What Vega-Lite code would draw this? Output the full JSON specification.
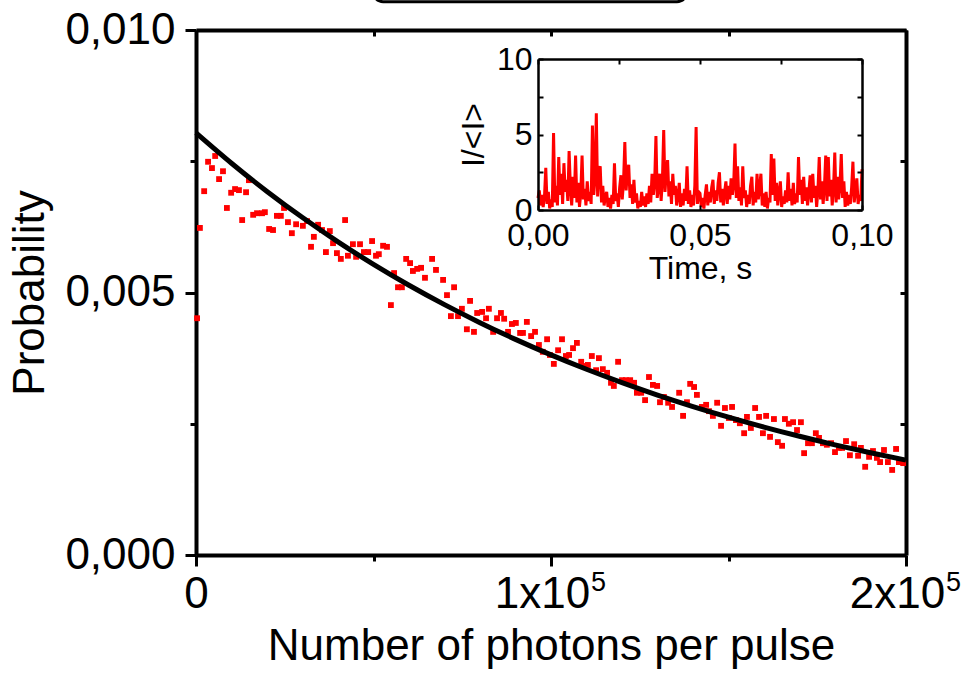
{
"$schema": "https://vega.github.io/schema/vega-lite/v6.json",
"width": 710,
"height": 525,
"autosize": {"type": "none"},
"padding": {"left": 196, "top": 30, "right": 59, "bottom": 118},
"background": "white",
"config": {
  "view": {"stroke": null},
  "font": "Liberation Sans",
  "axis": {"grid": false, "labelColor": "black", "titleColor": "black", "domainColor": "black", "tickColor": "black", "labelFont": "Liberation Sans", "titleFont": "Liberation Sans", "titleFontWeight": "normal", "labelFlush": false, "labelOverlap": false, "labelBound": false}
},
"datasets": {
  "scatter": [
{"n":300,"p":0.00451},{"n":1100,"p":0.00623},{"n":2300,"p":0.00693},{"n":3400,"p":0.00749},{"n":4500,"p":0.00737},{"n":5400,"p":0.00760},{"n":6500,"p":0.00716},{"n":7600,"p":0.00731},{"n":8700,"p":0.00661},{"n":9900,"p":0.00690},{"n":11000,"p":0.00697},{"n":12100,"p":0.00695},{"n":13000,"p":0.00638},{"n":14100,"p":0.00691},{"n":14900,"p":0.00714},{"n":16100,"p":0.00648},{"n":17200,"p":0.00651},{"n":18600,"p":0.00651},{"n":19400,"p":0.00653},{"n":20600,"p":0.00621},{"n":21700,"p":0.00619},{"n":22800,"p":0.00646},{"n":23900,"p":0.00646},{"n":24800,"p":0.00661},{"n":25900,"p":0.00634},{"n":27000,"p":0.00613},{"n":28200,"p":0.00630},{"n":30100,"p":0.00627},{"n":31300,"p":0.00636},{"n":32400,"p":0.00587},{"n":33200,"p":0.00606},{"n":34400,"p":0.00629},{"n":35500,"p":0.00619},{"n":36600,"p":0.00577},{"n":37700,"p":0.00617},{"n":38600,"p":0.00594},{"n":39700,"p":0.00575},{"n":40800,"p":0.00564},{"n":42000,"p":0.00638},{"n":42800,"p":0.00570},{"n":44200,"p":0.00592},{"n":45100,"p":0.00568},{"n":46200,"p":0.00592},{"n":47300,"p":0.00577},{"n":48500,"p":0.00577},{"n":49600,"p":0.00598},{"n":50700,"p":0.00570},{"n":51500,"p":0.00573},{"n":52700,"p":0.00589},{"n":53800,"p":0.00587},{"n":54900,"p":0.00476},{"n":55800,"p":0.00537},{"n":56900,"p":0.00510},{"n":58000,"p":0.00510},{"n":59200,"p":0.00564},{"n":60300,"p":0.00556},{"n":61100,"p":0.00541},{"n":62300,"p":0.00545},{"n":63400,"p":0.00547},{"n":64500,"p":0.00528},{"n":66500,"p":0.00564},{"n":67600,"p":0.00543},{"n":69600,"p":0.00524},{"n":70700,"p":0.00495},{"n":71800,"p":0.00455},{"n":72700,"p":0.00510},{"n":73800,"p":0.00455},{"n":74900,"p":0.00469},{"n":76300,"p":0.00430},{"n":77200,"p":0.00484},{"n":78300,"p":0.00425},{"n":79200,"p":0.00461},{"n":80600,"p":0.00463},{"n":81700,"p":0.00451},{"n":82500,"p":0.00469},{"n":83700,"p":0.00425},{"n":84800,"p":0.00451},{"n":85900,"p":0.00461},{"n":86800,"p":0.00450},{"n":87900,"p":0.00425},{"n":89000,"p":0.00440},{"n":90100,"p":0.00442},{"n":91300,"p":0.00423},{"n":92100,"p":0.00423},{"n":93200,"p":0.00444},{"n":94400,"p":0.00417},{"n":95500,"p":0.00425},{"n":96600,"p":0.00400},{"n":97700,"p":0.00387},{"n":98900,"p":0.00411},{"n":99700,"p":0.00381},{"n":100800,"p":0.00364},{"n":102000,"p":0.00390},{"n":103100,"p":0.00411},{"n":104200,"p":0.00379},{"n":105100,"p":0.00381},{"n":106200,"p":0.00394},{"n":107300,"p":0.00404},{"n":108500,"p":0.00368},{"n":109300,"p":0.00360},{"n":110400,"p":0.00362},{"n":111500,"p":0.00379},{"n":112700,"p":0.00352},{"n":113500,"p":0.00375},{"n":114600,"p":0.00354},{"n":115800,"p":0.00347},{"n":116900,"p":0.00328},{"n":117700,"p":0.00322},{"n":118900,"p":0.00368},{"n":120000,"p":0.00333},{"n":121100,"p":0.00333},{"n":122300,"p":0.00333},{"n":123400,"p":0.00328},{"n":124200,"p":0.00309},{"n":125400,"p":0.00309},{"n":126500,"p":0.00295},{"n":127600,"p":0.00339},{"n":128700,"p":0.00324},{"n":129900,"p":0.00322},{"n":130700,"p":0.00291},{"n":131800,"p":0.00301},{"n":133000,"p":0.00290},{"n":134100,"p":0.00282},{"n":136100,"p":0.00309},{"n":137200,"p":0.00265},{"n":138300,"p":0.00291},{"n":139200,"p":0.00326},{"n":140300,"p":0.00320},{"n":141100,"p":0.00305},{"n":142500,"p":0.00282},{"n":143700,"p":0.00286},{"n":144500,"p":0.00274},{"n":145600,"p":0.00265},{"n":146800,"p":0.00290},{"n":147900,"p":0.00246},{"n":149000,"p":0.00280},{"n":150100,"p":0.00261},{"n":151000,"p":0.00282},{"n":152100,"p":0.00257},{"n":153200,"p":0.00251},{"n":154400,"p":0.00232},{"n":155200,"p":0.00263},{"n":156300,"p":0.00242},{"n":157500,"p":0.00280},{"n":158600,"p":0.00263},{"n":159700,"p":0.00232},{"n":160600,"p":0.00265},{"n":161700,"p":0.00225},{"n":162800,"p":0.00259},{"n":163900,"p":0.00215},{"n":165100,"p":0.00208},{"n":165900,"p":0.00259},{"n":167000,"p":0.00250},{"n":168200,"p":0.00253},{"n":169300,"p":0.00238},{"n":170400,"p":0.00253},{"n":171300,"p":0.00194},{"n":172400,"p":0.00213},{"n":173500,"p":0.00213},{"n":174600,"p":0.00232},{"n":175500,"p":0.00223},{"n":176600,"p":0.00213},{"n":177700,"p":0.00210},{"n":178900,"p":0.00213},{"n":180000,"p":0.00196},{"n":181100,"p":0.00204},{"n":182000,"p":0.00204},{"n":183100,"p":0.00217},{"n":184200,"p":0.00190},{"n":185400,"p":0.00211},{"n":186500,"p":0.00189},{"n":187300,"p":0.00204},{"n":188500,"p":0.00168},{"n":189600,"p":0.00187},{"n":190700,"p":0.00198},{"n":191800,"p":0.00185},{"n":192700,"p":0.00177},{"n":193800,"p":0.00200},{"n":194900,"p":0.00177},{"n":196100,"p":0.00162},{"n":197200,"p":0.00202},{"n":198000,"p":0.00177},{"n":199200,"p":0.00175}
  ],
  "fit": [
{"n":0,"p":0.00804},{"n":10000,"p":0.007462},{"n":20000,"p":0.006925},{"n":30000,"p":0.006427},{"n":40000,"p":0.005965},{"n":50000,"p":0.005536},{"n":60000,"p":0.005138},{"n":70000,"p":0.004769},{"n":80000,"p":0.004426},{"n":90000,"p":0.004107},{"n":100000,"p":0.003812},{"n":110000,"p":0.003538},{"n":120000,"p":0.003284},{"n":130000,"p":0.003047},{"n":140000,"p":0.002828},{"n":150000,"p":0.002625},{"n":160000,"p":0.002436},{"n":170000,"p":0.002261},{"n":180000,"p":0.002098},{"n":190000,"p":0.001948},{"n":200000,"p":0.001807}
  ],
  "box": [{"x1":49900,"x2":138300,"y1":0.01054,"y2":0.0125}],
  "trace": [
{"t":0,"v":0.8},{"t":0.0004,"v":1.3},{"t":0.0008,"v":0.3},{"t":0.0012,"v":1.0},{"t":0.0016,"v":0.2},{"t":0.002,"v":0.9},{"t":0.0024,"v":2.8},{"t":0.0028,"v":0.4},{"t":0.0032,"v":1.2},{"t":0.0036,"v":0.1},
{"t":0.004,"v":0.7},{"t":0.0044,"v":0.2},{"t":0.0048,"v":5.1},{"t":0.0052,"v":0.5},{"t":0.0056,"v":1.6},{"t":0.006,"v":0.3},{"t":0.0064,"v":3.5},{"t":0.0068,"v":1.0},{"t":0.0072,"v":2.4},{"t":0.0076,"v":0.4},
{"t":0.008,"v":3.1},{"t":0.0084,"v":1.2},{"t":0.0088,"v":2.0},{"t":0.0092,"v":0.6},{"t":0.0096,"v":3.9},{"t":0.01,"v":1.5},{"t":0.0104,"v":0.3},{"t":0.0108,"v":2.2},{"t":0.0112,"v":0.8},{"t":0.0116,"v":3.6},
{"t":0.012,"v":0.5},{"t":0.0124,"v":1.8},{"t":0.0128,"v":0.2},{"t":0.0132,"v":1.1},{"t":0.0136,"v":3.6},{"t":0.014,"v":0.7},{"t":0.0144,"v":1.4},{"t":0.0148,"v":0.3},{"t":0.0152,"v":1.9},{"t":0.0156,"v":0.6},
{"t":0.016,"v":1.2},{"t":0.0164,"v":0.4},{"t":0.0168,"v":5.6},{"t":0.0172,"v":1.0},{"t":0.0176,"v":2.1},{"t":0.018,"v":6.4},{"t":0.0184,"v":0.9},{"t":0.0188,"v":2.6},{"t":0.0192,"v":2.9},{"t":0.0196,"v":0.5},
{"t":0.02,"v":1.6},{"t":0.0204,"v":0.3},{"t":0.0208,"v":0.9},{"t":0.0212,"v":1.2},{"t":0.0216,"v":0.2},{"t":0.022,"v":0.8},{"t":0.0224,"v":0.1},{"t":0.0228,"v":1.0},{"t":0.0232,"v":0.4},{"t":0.0236,"v":3.1},
{"t":0.024,"v":0.6},{"t":0.0244,"v":1.1},{"t":0.0248,"v":0.2},{"t":0.0252,"v":1.5},{"t":0.0256,"v":2.3},{"t":0.026,"v":0.7},{"t":0.0264,"v":1.9},{"t":0.0268,"v":4.5},{"t":0.0272,"v":1.3},{"t":0.0276,"v":2.6},
{"t":0.028,"v":3.0},{"t":0.0284,"v":0.8},{"t":0.0288,"v":1.7},{"t":0.0292,"v":0.4},{"t":0.0296,"v":2.0},{"t":0.03,"v":0.5},{"t":0.0304,"v":1.1},{"t":0.0308,"v":0.1},{"t":0.0312,"v":0.6},{"t":0.0316,"v":0.2},
{"t":0.032,"v":1.2},{"t":0.0324,"v":0.3},{"t":0.0328,"v":0.9},{"t":0.0332,"v":0.2},{"t":0.0336,"v":1.1},{"t":0.034,"v":0.4},{"t":0.0344,"v":1.6},{"t":0.0348,"v":0.5},{"t":0.0352,"v":2.4},{"t":0.0356,"v":1.0},
{"t":0.036,"v":1.8},{"t":0.0364,"v":4.9},{"t":0.0368,"v":0.8},{"t":0.0372,"v":1.5},{"t":0.0376,"v":2.4},{"t":0.038,"v":0.6},{"t":0.0384,"v":2.0},{"t":0.0388,"v":5.3},{"t":0.0392,"v":1.2},{"t":0.0396,"v":2.5},
{"t":0.04,"v":3.3},{"t":0.0404,"v":0.9},{"t":0.0408,"v":1.9},{"t":0.0412,"v":0.4},{"t":0.0416,"v":2.4},{"t":0.042,"v":1.0},{"t":0.0424,"v":1.6},{"t":0.0428,"v":0.3},{"t":0.0432,"v":0.9},{"t":0.0436,"v":1.8},
{"t":0.044,"v":0.2},{"t":0.0444,"v":1.1},{"t":0.0448,"v":0.3},{"t":0.0452,"v":1.4},{"t":0.0456,"v":0.6},{"t":0.046,"v":2.9},{"t":0.0464,"v":0.4},{"t":0.0468,"v":1.3},{"t":0.0472,"v":0.2},{"t":0.0476,"v":1.0},
{"t":0.048,"v":0.3},{"t":0.0484,"v":1.6},{"t":0.0488,"v":5.5},{"t":0.0492,"v":0.4},{"t":0.0496,"v":1.2},{"t":0.05,"v":1.1},{"t":0.0504,"v":0.2},{"t":0.0508,"v":0.8},{"t":0.0512,"v":0.1},{"t":0.0516,"v":1.0},
{"t":0.052,"v":1.7},{"t":0.0524,"v":0.3},{"t":0.0528,"v":1.2},{"t":0.0532,"v":0.5},{"t":0.0536,"v":1.5},{"t":0.054,"v":2.0},{"t":0.0544,"v":0.4},{"t":0.0548,"v":1.3},{"t":0.0552,"v":0.6},{"t":0.0556,"v":1.8},
{"t":0.056,"v":2.5},{"t":0.0564,"v":0.5},{"t":0.0568,"v":1.4},{"t":0.0572,"v":0.3},{"t":0.0576,"v":1.2},{"t":0.058,"v":1.9},{"t":0.0584,"v":0.4},{"t":0.0588,"v":1.6},{"t":0.0592,"v":0.7},{"t":0.0596,"v":2.1},
{"t":0.06,"v":1.0},{"t":0.0604,"v":1.7},{"t":0.0608,"v":4.4},{"t":0.0612,"v":0.8},{"t":0.0616,"v":2.9},{"t":0.062,"v":0.6},{"t":0.0624,"v":1.5},{"t":0.0628,"v":0.3},{"t":0.0632,"v":2.9},{"t":0.0636,"v":0.8},
{"t":0.064,"v":1.3},{"t":0.0644,"v":0.2},{"t":0.0648,"v":1.0},{"t":0.0652,"v":0.4},{"t":0.0656,"v":1.6},{"t":0.066,"v":2.2},{"t":0.0664,"v":0.3},{"t":0.0668,"v":1.2},{"t":0.0672,"v":0.5},{"t":0.0676,"v":2.4},
{"t":0.068,"v":0.7},{"t":0.0684,"v":1.5},{"t":0.0688,"v":2.4},{"t":0.0692,"v":0.3},{"t":0.0696,"v":1.1},{"t":0.07,"v":0.2},{"t":0.0704,"v":1.2},{"t":0.0708,"v":0.1},{"t":0.0712,"v":0.8},{"t":0.0716,"v":0.5},
{"t":0.072,"v":3.7},{"t":0.0724,"v":1.0},{"t":0.0728,"v":3.4},{"t":0.0732,"v":0.6},{"t":0.0736,"v":1.8},{"t":0.074,"v":0.3},{"t":0.0744,"v":1.2},{"t":0.0748,"v":1.9},{"t":0.0752,"v":0.2},{"t":0.0756,"v":0.9},
{"t":0.076,"v":0.4},{"t":0.0764,"v":1.3},{"t":0.0768,"v":0.5},{"t":0.0772,"v":2.5},{"t":0.0776,"v":0.6},{"t":0.078,"v":1.4},{"t":0.0784,"v":0.3},{"t":0.0788,"v":1.8},{"t":0.0792,"v":0.4},{"t":0.0796,"v":1.1},
{"t":0.08,"v":0.5},{"t":0.0804,"v":3.5},{"t":0.0808,"v":1.0},{"t":0.0812,"v":2.0},{"t":0.0816,"v":0.4},{"t":0.082,"v":2.2},{"t":0.0824,"v":0.6},{"t":0.0828,"v":1.5},{"t":0.0832,"v":0.3},{"t":0.0836,"v":1.2},
{"t":0.084,"v":2.3},{"t":0.0844,"v":0.5},{"t":0.0848,"v":2.4},{"t":0.0852,"v":0.8},{"t":0.0856,"v":1.6},{"t":0.086,"v":0.2},{"t":0.0864,"v":1.3},{"t":0.0868,"v":3.5},{"t":0.0872,"v":0.7},{"t":0.0876,"v":1.9},
{"t":0.088,"v":0.4},{"t":0.0884,"v":1.5},{"t":0.0888,"v":3.6},{"t":0.0892,"v":0.6},{"t":0.0896,"v":3.5},{"t":0.09,"v":0.9},{"t":0.0904,"v":2.0},{"t":0.0908,"v":0.3},{"t":0.0912,"v":1.4},{"t":0.0916,"v":3.8},
{"t":0.092,"v":0.5},{"t":0.0924,"v":2.2},{"t":0.0928,"v":0.7},{"t":0.0932,"v":1.6},{"t":0.0936,"v":3.7},{"t":0.094,"v":0.8},{"t":0.0944,"v":1.9},{"t":0.0948,"v":0.2},{"t":0.0952,"v":1.2},{"t":0.0956,"v":0.3},
{"t":0.096,"v":1.0},{"t":0.0964,"v":0.4},{"t":0.0968,"v":1.5},{"t":0.0972,"v":3.2},{"t":0.0976,"v":0.5},{"t":0.098,"v":1.3},{"t":0.0984,"v":2.1},{"t":0.0988,"v":0.4},{"t":0.0992,"v":1.0},{"t":0.0996,"v":0.6},
{"t":0.1,"v":2.7}
  ]
},
"layer": [
  {
    "layer": [
      {
        "data": {"name": "scatter"},
        "mark": {"type": "square", "size": 34, "color": "#FF0000", "opacity": 1, "filled": true},
        "encoding": {
          "x": {"field": "n", "type": "quantitative", "scale": {"domain": [0, 200000], "nice": false, "zero": false},
            "axis": {"orient": "bottom", "values": [0], "labelExpr": "'0'", "labelFontSize": 44, "tickSize": 11, "tickWidth": 3, "domainWidth": 4, "labelPadding": 6, "title": "Number of photons per pulse", "titleFontSize": 44, "titlePadding": 8}},
          "y": {"field": "p", "type": "quantitative", "scale": {"domain": [0, 0.01], "nice": false, "zero": false},
            "axis": {"orient": "left", "values": [0, 0.005, 0.01], "labelExpr": "replace(format(datum.value, '.3f'), '.', ',')", "labelFontSize": 44, "tickSize": 11, "tickWidth": 3, "domainWidth": 4, "labelPadding": 10, "title": "Probability", "titleFontSize": 44, "titlePadding": 12}}
        }
      },
      {
        "data": {"name": "fit"},
        "mark": {"type": "line", "color": "black", "strokeWidth": 5, "interpolate": "monotone"},
        "encoding": {
          "x": {"field": "n", "type": "quantitative", "scale": {"domain": [0, 200000], "nice": false, "zero": false},
            "axis": {"orient": "top", "values": [0, 50000, 100000, 150000, 200000], "labels": false, "tickSize": -6, "tickWidth": 3, "domainWidth": 4, "title": null}},
          "y": {"field": "p", "type": "quantitative", "scale": {"domain": [0, 0.01], "nice": false, "zero": false},
            "axis": {"orient": "right", "values": [0, 0.0025, 0.005, 0.0075, 0.01], "labels": false, "tickSize": -6, "tickWidth": 3, "domainWidth": 4, "title": null}}
        }
      },
      {
        "data": {"name": "fit"},
        "mark": {"type": "point", "opacity": 0},
        "encoding": {
          "x": {"field": "n", "type": "quantitative", "scale": {"domain": [0, 200000], "nice": false, "zero": false},
            "axis": {"orient": "bottom", "values": [50000, 150000], "labels": false, "domain": false, "tickSize": 6, "tickWidth": 3, "title": null}},
          "y": {"field": "p", "type": "quantitative", "scale": {"domain": [0, 0.01], "nice": false, "zero": false},
            "axis": {"orient": "left", "values": [0.0025, 0.0075], "labels": false, "domain": false, "tickSize": 6, "tickWidth": 3, "title": null}}
        }
      },
      {
        "data": {"name": "fit"},
        "mark": {"type": "point", "opacity": 0},
        "encoding": {
          "x": {"field": "n", "type": "quantitative", "scale": {"domain": [0, 200000], "nice": false, "zero": false},
            "axis": {"orient": "bottom", "values": [100000, 200000], "labelExpr": "format(datum.value / 100000, 'd') + 'x10'", "labelFontSize": 44, "labelOffset": -9, "domain": false, "tickSize": 11, "tickWidth": 3, "labelPadding": 6, "title": null}}
        }
      },
      {
        "data": {"name": "fit"},
        "mark": {"type": "point", "opacity": 0},
        "encoding": {
          "x": {"field": "n", "type": "quantitative", "scale": {"domain": [0, 200000], "nice": false, "zero": false},
            "axis": {"orient": "bottom", "values": [100000, 200000], "labelExpr": "'5'", "labelFontSize": 27, "labelOffset": 47, "domain": false, "tickSize": 11, "tickOpacity": 0, "labelPadding": 3, "title": null}}
        }
      },
      {
        "data": {"name": "box"},
        "mark": {"type": "rect", "filled": false, "color": "black", "strokeWidth": 3, "cornerRadius": 10},
        "encoding": {
          "x": {"field": "x1", "type": "quantitative", "scale": {"domain": [0, 200000], "nice": false, "zero": false}, "axis": null},
          "x2": {"field": "x2"},
          "y": {"field": "y1", "type": "quantitative", "scale": {"domain": [0, 0.01], "nice": false, "zero": false}, "axis": null},
          "y2": {"field": "y2"}
        }
      }
    ],
    "resolve": {"axis": {"x": "independent", "y": "independent"}}
  },
  {
    "layer": [
      {
        "data": {"name": "trace"},
        "mark": {"type": "line", "color": "#FF0000", "strokeWidth": 3},
        "encoding": {
          "x": {"field": "t", "type": "quantitative", "scale": {"domain": [0, 0.1], "range": [342, 666], "nice": false, "zero": false},
            "axis": {"orient": "bottom", "offset": -345, "values": [0, 0.05, 0.1], "labelExpr": "replace(format(datum.value, '.2f'), '.', ',')", "labelFontSize": 32, "tickSize": -5, "tickWidth": 2, "domainWidth": 2.5, "labelPadding": 15, "title": "Time, s", "titleFontSize": 32, "titlePadding": 2, "zindex": 1}},
          "y": {"field": "v", "type": "quantitative", "scale": {"domain": [0, 10], "range": [180, 29], "nice": false, "zero": false},
            "axis": {"orient": "left", "offset": -342, "values": [0, 2.5, 5, 7.5, 10], "labelExpr": "datum.value % 5 == 0 ? format(datum.value, 'd') : ''", "labelFontSize": 32, "tickSize": -5, "tickWidth": 2, "domainWidth": 2.5, "labelPadding": 11, "title": "I/<I>", "titleFontSize": 32, "titlePadding": 6, "zindex": 1}}
        }
      },
      {
        "data": {"name": "trace"},
        "mark": {"type": "point", "opacity": 0},
        "encoding": {
          "x": {"field": "t", "type": "quantitative", "scale": {"domain": [0, 0.1], "range": [342, 666], "nice": false, "zero": false},
            "axis": {"orient": "top", "offset": -29, "values": [0, 0.025, 0.05, 0.075, 0.1], "labels": false, "tickSize": -5, "tickWidth": 2, "domainWidth": 2.5, "title": null, "zindex": 1}},
          "y": {"field": "v", "type": "quantitative", "scale": {"domain": [0, 10], "range": [180, 29], "nice": false, "zero": false},
            "axis": {"orient": "right", "offset": -44, "values": [0, 2.5, 5, 7.5, 10], "labels": false, "tickSize": -5, "tickWidth": 2, "domainWidth": 2.5, "title": null, "zindex": 1}}
        }
      }
    ],
    "resolve": {"axis": {"x": "independent", "y": "independent"}}
  }
],
"resolve": {"scale": {"x": "independent", "y": "independent"}, "axis": {"x": "independent", "y": "independent"}}
}
